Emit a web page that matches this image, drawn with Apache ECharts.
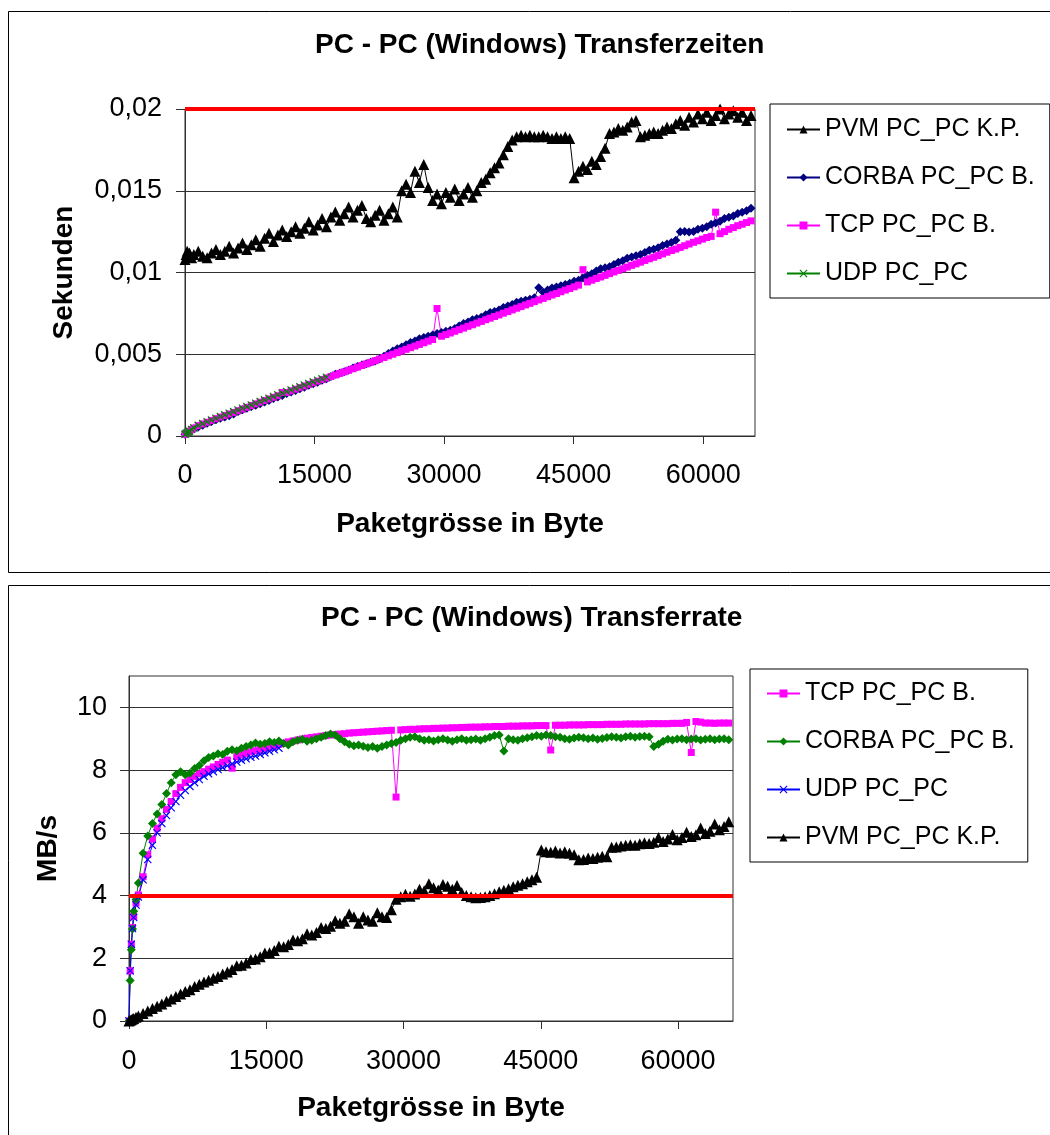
<!DOCTYPE html>
<html><head><meta charset="utf-8">
<script src="https://cdn.jsdelivr.net/npm/echarts@6/dist/echarts.min.js"></script>
<style>html,body{margin:0;padding:0;background:#fff}#c{width:1050px;height:1135px}</style>
</head><body><div id="c"></div>
<script>
// Packet sizes in bytes (x values)
const sizes = [0,128,256,384,512,768,
1024,1536,2048,2560,3072,3584,4096,4608,5120,5632,
6144,6656,7168,7680,8192,8704,9216,9728,10240,10752,
11264,11776,12288,12800,13312,13824,14336,14848,15360,15872,
16384,16896,17408,17920,18432,18944,19456,19968,20480,20992,
21504,22016,22528,23040,23552,24064,24576,25088,25600,26112,
26624,27136,27648,28160,28672,29184,29696,30208,30720,31232,
31744,32256,32768,33280,33792,34304,34816,35328,35840,36352,
36864,37376,37888,38400,38912,39424,39936,40448,40960,41472,
41984,42496,43008,43520,44032,44544,45056,45568,46080,46592,
47104,47616,48128,48640,49152,49664,50176,50688,51200,51712,
52224,52736,53248,53760,54272,54784,55296,55808,56320,56832,
57344,57856,58368,58880,59392,59904,60416,60928,61440,61952,
62464,62976,63488,64000,64512,65024,65536];
const udpSizes = [0,128,256,384,512,768,
1024,1536,2048,2560,3072,3584,4096,4608,5120,5632,
6144,6656,7168,7680,8192,8704,9216,9728,10240,10752,
11264,11776,12288,12800,13312,13824,14336,14848,15360,15872,
16384];

// ---- Chart 1: transfer times (seconds) ----
const timePVM = [0.0108,0.0111,0.0113,0.011,0.0112,0.0109,
0.0111,0.0113,0.011,0.0109,0.0112,0.0114,0.0111,0.0113,0.0116,0.0112,
0.0115,0.0118,0.0114,0.0117,0.012,0.0116,0.0121,0.0124,0.0119,0.0123,
0.0126,0.0122,0.0125,0.0128,0.0124,0.0127,0.0131,0.0126,0.0129,0.0133,
0.0128,0.0134,0.0137,0.0132,0.0136,0.014,0.0134,0.0138,0.0141,0.0133,
0.0131,0.0135,0.0138,0.0132,0.0136,0.014,0.0134,0.015,0.0154,0.0149,
0.0162,0.0155,0.0166,0.0152,0.0144,0.0148,0.0142,0.0149,0.0146,0.0151,
0.0144,0.0148,0.0152,0.0146,0.015,0.0155,0.0157,0.0161,0.0164,0.0167,
0.0172,0.0177,0.0181,0.0183,0.0184,0.0183,0.0184,0.0183,0.0183,0.0184,
0.0183,0.0182,0.0183,0.0182,0.0183,0.0182,0.0158,0.0162,0.0165,0.0163,
0.0168,0.0166,0.0171,0.0176,0.0185,0.0186,0.0188,0.0187,0.0189,0.0192,
0.0193,0.0183,0.0184,0.0185,0.0186,0.0185,0.0187,0.0189,0.0188,0.0191,
0.0193,0.019,0.0195,0.0192,0.0197,0.0194,0.0198,0.0193,0.0196,0.02,
0.0194,0.0197,0.0199,0.0195,0.0198,0.0193,0.0196];
const timeCORBA = [0.0001,0.000189,0.000215,0.00025,0.000279,0.000378,
0.000444,0.000548,0.000662,0.000775,0.000888,0.000991,0.001078,0.001157,0.001244,0.001351,
0.001493,0.001607,0.001698,0.001797,0.001883,0.001976,0.00208,0.002178,0.002298,0.002385,
0.002484,0.002606,0.002694,0.00279,0.002885,0.002976,0.0031,0.0032,0.003292,0.003409,
0.0035,0.003642,0.003773,0.00384,0.003928,0.004024,0.00416,0.004255,0.00434,0.004424,
0.004507,0.004589,0.004711,0.004883,0.005047,0.005204,0.005339,0.005438,0.005574,0.005712,
0.005804,0.005949,0.006027,0.006104,0.00618,0.006269,0.006329,0.006402,0.006474,0.006575,
0.006727,0.006874,0.006968,0.007108,0.007186,0.00727,0.007411,0.007554,0.007621,0.007704,
0.007856,0.007948,0.008038,0.008183,0.008247,0.008309,0.008371,0.008459,0.009073,0.008789,
0.008927,0.009056,0.009115,0.009192,0.00927,0.009337,0.009465,0.00953,0.009659,0.009809,
0.009928,0.010091,0.010222,0.010286,0.010359,0.01049,0.010634,0.010719,0.010874,0.010947,
0.011019,0.011103,0.011223,0.011368,0.011426,0.011508,0.011654,0.011736,0.01183,0.011965,
0.0125,0.012511,0.012481,0.012506,0.012643,0.012709,0.012804,0.012956,0.013035,0.013129,
0.013297,0.013375,0.013455,0.013609,0.013687,0.013781,0.013936];
const timeTCP = [0.0001,0.000153,0.000199,0.000246,0.000293,0.00039,
0.000486,0.000637,0.000737,0.000842,0.000953,0.00106,0.001157,0.001256,0.001347,0.001442,
0.001542,0.001649,0.001753,0.001859,0.001965,0.002067,0.00217,0.002268,0.002367,0.002465,
0.002666,0.002664,0.002764,0.002862,0.002959,0.003059,0.003157,0.003255,0.003352,0.003448,
0.003543,0.003637,0.003731,0.003828,0.003924,0.004019,0.004114,0.004213,0.004312,0.00441,
0.004507,0.004604,0.004706,0.004803,0.004904,0.005,0.0051,0.005201,0.005302,0.005402,
0.005502,0.005601,0.005701,0.005801,0.0059,0.007796,0.006103,0.006202,0.0063,0.006405,
0.006504,0.006601,0.006706,0.006803,0.006908,0.007005,0.00711,0.007207,0.007311,0.007407,
0.007512,0.007608,0.007712,0.007817,0.007913,0.008017,0.008112,0.008216,0.00832,0.008415,
0.008519,0.008623,0.008717,0.008821,0.008925,0.009019,0.009123,0.009227,0.010173,0.009424,
0.009528,0.009631,0.009724,0.009827,0.009931,0.010034,0.010127,0.01023,0.010334,0.010437,
0.01053,0.010633,0.010736,0.010839,0.010931,0.011034,0.011137,0.011241,0.011344,0.011434,
0.011537,0.01164,0.011743,0.011846,0.011937,0.01204,0.012142,0.012208,0.01369,0.012373,
0.012501,0.012644,0.012747,0.012863,0.012952,0.013055,0.013158];
const timeUDP = [0.0001,0.000153,0.000199,0.000248,0.000296,0.000396,
0.000494,0.000651,0.000758,0.000872,0.000977,0.001085,0.001193,0.001293,0.001395,0.001492,
0.001594,0.001697,0.001799,0.001902,0.002003,0.002107,0.002211,0.002314,0.002417,0.002519,
0.00262,0.002719,0.00282,0.00292,0.003019,0.00312,0.003217,0.003312,0.003407,0.0035,
0.003592];
const timeLimit = 0.02;

// ---- Chart 2: transfer rates (MB/s) ----
const rateTCP = [0,1.6,2.45,2.98,3.33,3.76,
4.02,4.6,5.3,5.8,6.15,6.45,6.75,7.0,7.25,7.45,
7.6,7.7,7.8,7.88,7.95,8.03,8.1,8.18,8.25,8.32,
8.06,8.43,8.48,8.53,8.58,8.62,8.66,8.7,8.74,8.78,
8.82,8.86,8.9,8.93,8.96,8.99,9.02,9.04,9.06,9.08,
9.1,9.12,9.13,9.15,9.16,9.18,9.19,9.2,9.21,9.22,
9.23,9.24,9.25,9.26,9.27,7.14,9.28,9.29,9.3,9.3,
9.31,9.32,9.32,9.33,9.33,9.34,9.34,9.35,9.35,9.36,
9.36,9.37,9.37,9.37,9.38,9.38,9.39,9.39,9.39,9.4,
9.4,9.4,9.41,9.41,9.41,9.42,9.42,9.42,8.64,9.43,
9.43,9.43,9.44,9.44,9.44,9.44,9.45,9.45,9.45,9.45,
9.46,9.46,9.46,9.46,9.47,9.47,9.47,9.47,9.47,9.48,
9.48,9.48,9.48,9.48,9.49,9.49,9.49,9.52,8.56,9.55,
9.53,9.5,9.5,9.49,9.5,9.5,9.5];
const rateCORBA = [0,1.29,2.27,2.93,3.5,3.87,
4.4,5.35,5.9,6.3,6.6,6.9,7.25,7.6,7.85,7.95,
7.85,7.9,8.05,8.15,8.3,8.4,8.45,8.52,8.5,8.6,
8.65,8.62,8.7,8.75,8.8,8.86,8.82,8.85,8.9,8.88,
8.93,8.85,8.8,8.9,8.95,8.98,8.92,8.95,9.0,9.05,
9.1,9.15,9.12,9.0,8.9,8.82,8.78,8.8,8.76,8.72,
8.75,8.7,8.75,8.8,8.85,8.88,8.95,9.0,9.05,9.06,
9.0,8.95,8.97,8.93,8.97,9.0,8.96,8.92,8.97,9.0,
8.95,8.97,8.99,8.95,9.0,9.05,9.1,9.12,8.61,9.0,
8.97,8.95,9.0,9.03,9.06,9.1,9.08,9.12,9.1,9.06,
9.05,9.0,8.98,9.02,9.05,9.03,9.0,9.02,8.98,9.01,
9.04,9.06,9.05,9.02,9.06,9.08,9.05,9.07,9.08,9.06,
8.75,8.82,8.92,8.98,8.96,8.99,9.0,8.97,8.99,9.0,
8.96,8.98,9.0,8.97,8.99,9.0,8.97];
const rateUDP = [0,1.6,2.45,2.95,3.3,3.7,
3.95,4.5,5.15,5.6,6.0,6.3,6.55,6.8,7.0,7.2,
7.35,7.48,7.6,7.7,7.8,7.88,7.95,8.02,8.08,8.14,
8.2,8.26,8.31,8.36,8.41,8.45,8.5,8.55,8.6,8.65,
8.7];
const ratePVM = [0,0.02,0.04,0.06,0.08,0.12,
0.16,0.24,0.32,0.4,0.47,0.54,0.63,0.7,0.78,0.86,
0.94,1.0,1.1,1.17,1.24,1.3,1.36,1.42,1.5,1.56,
1.64,1.76,1.78,1.85,1.96,1.98,2.05,2.17,2.18,2.25,
2.38,2.37,2.44,2.58,2.56,2.62,2.78,2.74,2.82,2.98,
2.95,3.02,3.2,3.12,3.18,3.42,3.32,3.12,3.32,3.22,
3.18,3.45,3.32,3.3,3.55,3.88,3.96,4.04,3.98,4.05,
4.2,4.15,4.38,4.25,4.18,4.35,4.3,4.2,4.32,4.1,
4.0,3.96,3.93,3.94,3.96,4.0,4.06,4.12,4.17,4.22,
4.28,4.33,4.38,4.44,4.5,4.58,5.45,5.4,5.38,5.42,
5.36,5.4,5.35,5.3,5.14,5.15,5.2,5.18,5.22,5.25,
5.24,5.54,5.55,5.58,5.6,5.62,5.6,5.65,5.68,5.66,
5.7,5.85,5.72,5.8,5.95,5.78,5.85,6.02,5.88,5.94,
6.15,5.98,6.05,6.28,6.1,6.2,6.35];
const rateLimit = 4;

// Tick values and labels
const xTicks = [0,15000,30000,45000,60000];
const xTickLabels = ['0','15000','30000','45000','60000'];
const yTicksTop = [0,0.005,0.01,0.015,0.02];
const yTickLabelsTop = ['0','0,005','0,01','0,015','0,02'];
const yTicksBottom = [0,2,4,6,8,10];
const yTickLabelsBottom = ['0','2','4','6','8','10'];

const FONT = '"Liberation Sans", Arial, sans-serif';
const AX = '#303030';
const X_SYMBOL = 'path://M0,1L1,0L5,4L9,0L10,1L6,5L10,9L9,10L5,6L1,10L0,9L4,5Z';
const zip = (xs, ys) => ys.map((y, i) => [xs[i], y]);
const lookup = (vals, labels) => v => { const i = vals.findIndex(t => Math.abs(t - v) < 1e-9); return i < 0 ? '' : labels[i]; };
const nameStyle = {fontFamily: FONT, fontSize: 28, fontWeight: 'bold', color: '#000'};
const labelStyle = {fontFamily: FONT, fontSize: 27, color: '#000'};

function xAxis(gi, margin, nameGap) {
  return {type: 'value', gridIndex: gi, min: 0, max: 66000, interval: 15000,
    name: 'Paketgrösse in Byte', nameLocation: 'middle', nameGap: nameGap, nameTextStyle: nameStyle,
    axisLine: {show: true, onZero: false, lineStyle: {color: AX, width: 1}},
    axisTick: {show: true, length: 8, lineStyle: {color: AX}, customValues: xTicks},
    axisLabel: Object.assign({margin: margin, customValues: xTicks, formatter: lookup(xTicks, xTickLabels)}, labelStyle),
    splitLine: {show: false}};
}
function yAxis(gi, name, max, interval, ticks, labels, nameGap, margin) {
  return {type: 'value', gridIndex: gi, min: 0, max: max, interval: interval,
    name: name, nameLocation: 'middle', nameGap: nameGap, nameTextStyle: nameStyle,
    axisLine: {show: true, onZero: false, lineStyle: {color: AX, width: 1}},
    axisTick: {show: true, length: 9, lineStyle: {color: AX}, customValues: ticks},
    axisLabel: Object.assign({margin: margin, customValues: ticks, formatter: lookup(ticks, labels)}, labelStyle),
    splitLine: {show: true, lineStyle: {color: AX, width: 1}}};
}
const common = {type: 'line', showSymbol: true, animation: false, silent: true, emphasis: {disabled: true}};
function ser(name, gi, xs, ys, color, symbol, size, extra) {
  return Object.assign({}, common, {name: name, xAxisIndex: gi, yAxisIndex: gi, data: zip(xs, ys),
    symbol: symbol, symbolSize: size, itemStyle: {color: color}, lineStyle: {color: color, width: 1}}, extra || {});
}
function limit(v) {
  return {markLine: {silent: true, symbol: 'none', label: {show: false}, animation: false,
    lineStyle: {color: '#FF0000', width: 4, type: 'solid'}, data: [{yAxis: v}]}};
}
const legendText = {fontFamily: FONT, fontSize: 25, color: '#000', lineHeight: 25};

const chart = echarts.init(document.getElementById('c'), null, {renderer: 'canvas'});
chart.setOption({
  animation: false,
  backgroundColor: '#fff',
  graphic: [
    {type: 'rect', silent: true, z: -10, shape: {x: 8.5, y: 11.5, width: 1100, height: 561}, style: {fill: 'none', stroke: '#000', lineWidth: 1}},
    {type: 'rect', silent: true, z: -10, shape: {x: 8.5, y: 585.5, width: 1100, height: 600}, style: {fill: 'none', stroke: '#000', lineWidth: 1}}
  ],
  title: [
    {text: 'PC - PC (Windows) Transferzeiten', left: 315, top: 31, padding: 0, textStyle: nameStyle},
    {text: 'PC - PC (Windows) Transferrate', left: 321, top: 604, padding: 0, textStyle: nameStyle}
  ],
  legend: [
    {data: ['PVM PC_PC K.P.', 'CORBA PC_PC B.', 'TCP PC_PC B.', 'UDP PC_PC'], orient: 'vertical',
     left: 770, top: 104, padding: [13, 15, 12, 16], itemGap: 23, itemWidth: 33, itemHeight: 10,
     backgroundColor: '#fff', borderColor: '#000', borderWidth: 1, selectedMode: false, textStyle: legendText},
    {data: ['TCP PC_PC B.#2', 'CORBA PC_PC B.#2', 'UDP PC_PC#2', 'PVM PC_PC K.P.#2'], orient: 'vertical',
     left: 750, top: 669, padding: [12, 13, 12, 16], itemGap: 23, itemWidth: 33, itemHeight: 10,
     backgroundColor: '#fff', borderColor: '#000', borderWidth: 1, selectedMode: false, textStyle: legendText,
     formatter: n => n.replace('#2', '')}
  ],
  grid: [
    {left: 185, top: 109, width: 570, height: 327, show: true, borderColor: AX, borderWidth: 1, backgroundColor: 'transparent'},
    {left: 129, top: 676, width: 604, height: 345, show: true, borderColor: AX, borderWidth: 1, backgroundColor: 'transparent'}
  ],
  xAxis: [xAxis(0, 26, 74), xAxis(1, 27, 73)],
  yAxis: [
    yAxis(0, 'Sekunden', 0.02, 0.005, yTicksTop, yTickLabelsTop, 107, 23),
    yAxis(1, 'MB/s', 11, 2, yTicksBottom, yTickLabelsBottom, 67, 22)
  ],
  series: [
    ser('PVM PC_PC K.P.', 0, sizes, timePVM, '#000000', 'triangle', 11),
    ser('CORBA PC_PC B.', 0, sizes, timeCORBA, '#000080', 'diamond', 9),
    ser('TCP PC_PC B.', 0, sizes, timeTCP, '#FF00FF', 'rect', 7),
    ser('UDP PC_PC', 0, udpSizes, timeUDP, '#008000', X_SYMBOL, 8, limit(timeLimit)),
    ser('TCP PC_PC B.#2', 1, sizes, rateTCP, '#FF00FF', 'rect', 7),
    ser('CORBA PC_PC B.#2', 1, sizes, rateCORBA, '#008000', 'diamond', 9),
    ser('UDP PC_PC#2', 1, udpSizes, rateUDP, '#0000FF', X_SYMBOL, 8),
    ser('PVM PC_PC K.P.#2', 1, sizes, ratePVM, '#000000', 'triangle', 11, limit(rateLimit))
  ]
});
</script></body></html>
